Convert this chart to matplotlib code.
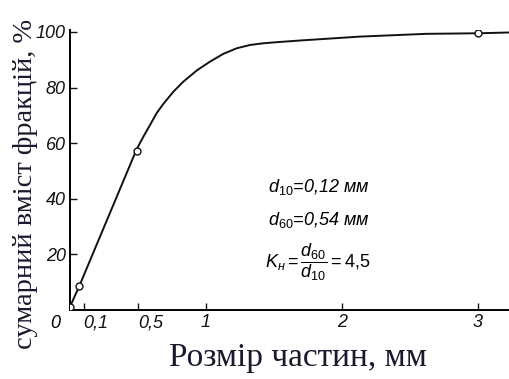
import matplotlib
matplotlib.use('Agg')
import matplotlib.pyplot as plt

## curve (size in mm, cumulative %)
curve_x = [0.0, 0.068, 0.490, 0.539, 0.588, 0.637, 0.686, 0.760, 0.833, 0.931, 1.029, 1.127, 1.225, 1.324,
           1.421, 1.52, 1.69, 2.13, 2.62, 3.0, 3.24]
curve_y = [1.2, 8.6, 57.8, 62.3, 66.5, 70.8, 74.1, 78.5, 82.1, 86.1, 89.3, 92.1, 94.1, 95.3,
           95.9, 96.3, 96.9, 98.3, 99.3, 99.5, 99.8]

## measured points (open circles)
pts_x = [0.0, 0.068, 0.495, 3.0]
pts_y = [1.2, 8.6, 57.3, 99.5]

x_ticks = [0.1, 0.5, 1, 2, 3]
x_labels = ['0,1', '0,5', '1', '2', '3']
y_ticks = [20, 40, 60, 80, 100]
y_labels = ['20', '40', '60', '80', '100']

plt.rcParams['mathtext.fontset'] = 'custom'
plt.rcParams['mathtext.rm'] = 'Liberation Sans'
plt.rcParams['mathtext.it'] = 'Liberation Sans:italic'

line_color = '#111111'
label_color = '#1a1a2e'

fig = plt.figure(figsize=(5.10, 3.79), dpi=100)
ax = fig.add_axes([0.1373, 0.182, 0.8627, 0.739])

ax.plot(curve_x, curve_y, color=line_color, lw=1.4, zorder=2)
ax.plot(pts_x, pts_y, 'o', ms=5, mfc='white', mec=line_color, mew=1.0, zorder=3)

ax.set_xlim(0, 3.235)
ax.set_ylim(0, 100.7)
ax.spines['top'].set_visible(False)
ax.spines['right'].set_visible(False)
ax.spines['left'].set_linewidth(1.4)
ax.spines['bottom'].set_linewidth(1.4)

ax.set_xticks(x_ticks)
ax.set_xticklabels(x_labels, fontsize=13, fontstyle='italic', family='Liberation Sans')
for t, lab in zip(ax.get_xticklabels(), x_labels):
    if lab.startswith('0'):
        t.set_ha('left')
ax.set_yticks(y_ticks)
ax.set_yticklabels(y_labels, fontsize=13, fontstyle='italic', family='Liberation Sans')
ax.tick_params(direction='in', length=5, width=1.0, colors=line_color, pad=3)

ax.annotate('0', xy=(0, 0), xytext=(-11, -10), textcoords='offset points', ha='center', va='center',
            fontsize=13, fontstyle='italic', family='Liberation Sans')

ax.set_xlabel('Розмір частин, мм', family='Liberation Serif', fontsize=24, color=label_color)
ax.xaxis.set_label_coords(0.518, -0.115)
ax.set_ylabel('сумарний вміст фракцій, %', family='Liberation Serif', fontsize=20.5, color=label_color)
ax.yaxis.set_label_coords(-0.073, 0.45)

ax.text(1.456, 44.2, r'$d_{10}$=0,12 мм', fontsize=13, fontstyle='italic', family='Liberation Sans', va='center')
ax.text(1.456, 32.4, r'$d_{60}$=0,54 мм', fontsize=13, fontstyle='italic', family='Liberation Sans', va='center')
ax.text(1.43, 17.3, r'$K_{н}=\dfrac{d_{60}}{d_{10}}=4{,}5$', fontsize=13, va='center')

plt.savefig('out.png', dpi=100)
